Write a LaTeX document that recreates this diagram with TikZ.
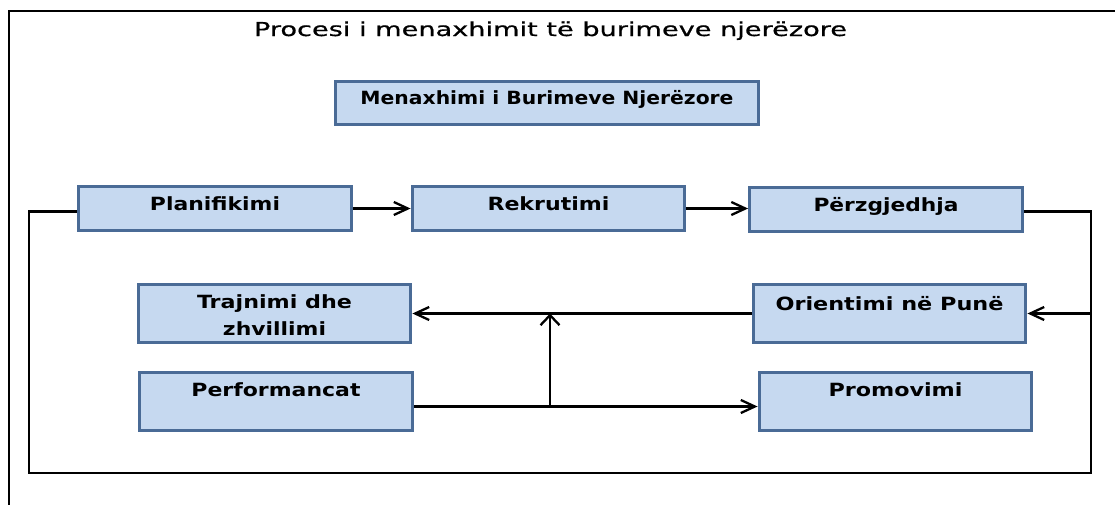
\documentclass[tikz,border=0pt]{standalone}
\usepackage{fontspec}
\setmainfont{DejaVu Sans}
\newfontfamily\titlefont[FakeBold=0.6]{DejaVu Sans}
\usepackage{graphicx}
\usetikzlibrary{arrows.meta}
\definecolor{boxfill}{RGB}{198,217,240}
\definecolor{boxline}{RGB}{74,107,150}
% set a piece of lettering to a given width, keeping its height
\newcommand\fitw[2]{\resizebox{#1}{\height}{#2}}

\begin{document}
\begin{tikzpicture}[x=1pt,y=-1pt,
  box/.style={draw=boxline, fill=boxfill, line width=3.4pt, inner sep=0pt},
  wide/.style={box, minimum width=272.5pt},
  lowbox/.style={minimum height=43.5pt},
  tallbox/.style={minimum height=57.5pt},
  lbl/.style={anchor=base, inner sep=0pt, align=center,
    font=\fontsize{18.2}{26.7}\selectfont\bfseries},
  conn/.style={line width=2.3pt, draw=black},
  arr/.style={conn, -{Straight Barb[length=14pt,width=13pt]}},
  uparr/.style={conn, -{Straight Barb[length=10pt,width=19pt]}},
]
\useasboundingbox (0,0) rectangle (1115,504);

% outer frame
\coordinate (frameBL) at (9,506);
\coordinate (frameTL) at (9,11);
\coordinate (frameTR) at (1117,11);
\draw[line width=2.5pt] (frameBL) -- (frameTL) -- (frameTR);

% title
\node[anchor=base, inner sep=0pt, font=\titlefont\fontsize{19.2}{22}\selectfont] (title)
  at (550.5,36) {\fitw{593pt}{Procesi i menaxhimit të burimeve njerëzore}};

% boxes
\node[box, minimum width=423pt, lowbox] (mbn) at (547,103) {};
\node[wide, lowbox] (plan) at (215,208.5) {};
\node[wide, lowbox] (rek) at (548.5,208.5) {};
\node[wide, lowbox] (perz) at (886,209.5) {};
\node[wide, tallbox] (trajn) at (274.5,313.5) {};
\node[wide, tallbox] (orient) at (889.5,313.5) {};
\node[wide, tallbox] (perf) at (276,401.5) {};
\node[wide, tallbox] (prom) at (895.5,401.5) {};

% box labels
\node[lbl] (mbnT) at ([yshift=-24.5pt]mbn.north) {\fitw{373pt}{Menaxhimi i Burimeve Njerëzore}};
\node[lbl] (planT) at ([yshift=-25.5pt]plan.north) {\fitw{130pt}{Planifikimi}};
\node[lbl] (rekT) at ([yshift=-25.5pt]rek.north) {\fitw{122pt}{Rekrutimi}};
\node[lbl] (perzT) at ([yshift=-25pt]perz.north) {\fitw{145pt}{Përzgjedhja}};
\node[lbl] (trajnT) at ([yshift=-52pt]trajn.north) {\fitw{155pt}{Trajnimi dhe}\\\fitw{103pt}{zhvillimi}};
\node[lbl] (orientT) at ([yshift=-27pt]orient.north) {\fitw{228pt}{Orientimi në Punë}};
\node[lbl] (perfT) at ([yshift=-25.5pt]perf.north) {\fitw{169pt}{Performancat}};
\node[lbl] (promT) at ([yshift=-25.5pt]prom.north) {\fitw{134pt}{Promovimi}};

% top row flow
\draw[arr] (plan.east) -- (rek.west);
\draw[arr] (rek.east) -- (rek.east -| perz.west);

% feedback loop around the diagram
\coordinate (loopR) at (1091,473);
\coordinate (loopL) at (29,473);
\draw[conn] ([yshift=-2pt]perz.east) -| (loopR) -- (loopL) |- ([yshift=-3pt]plan.west);
\draw[arr] (orient.east -| loopR) -- (orient.east);

% middle and bottom rows
\coordinate (perfOut) at ([yshift=-5pt]perf.east);
\coordinate (junction) at (550,0);
\draw[arr] (orient.west) -- (trajn.east);
\draw[arr] (perfOut) -- (perfOut -| prom.west);
\draw[uparr] (junction |- perfOut) -- (junction |- orient.west);
\end{tikzpicture}
\end{document}
